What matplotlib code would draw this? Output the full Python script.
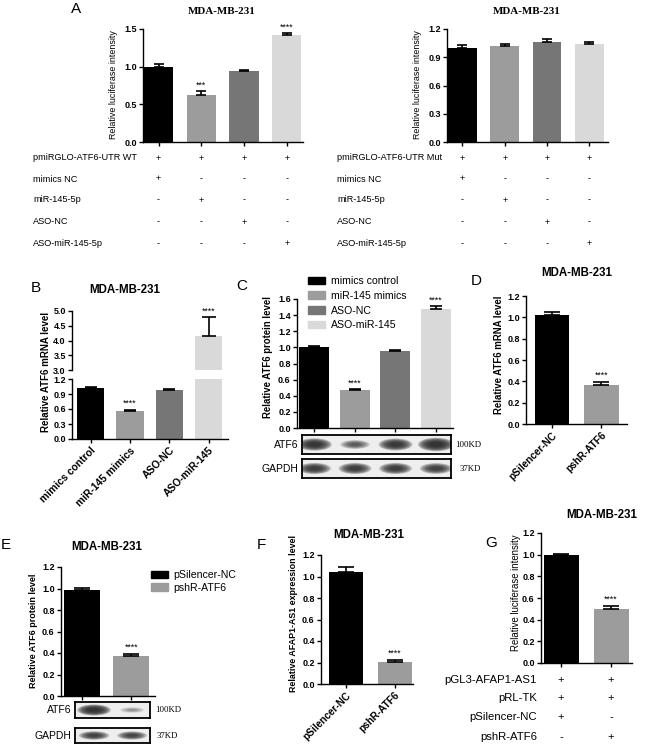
import numpy as np
import matplotlib
matplotlib.use('Agg')
import matplotlib.pyplot as plt
from matplotlib.patches import Ellipse, Patch
from matplotlib import transforms

plt.rcParams['font.family'] = ['Liberation Sans', 'DejaVu Sans']

W, H = 658, 744

# ---------------- data ----------------
bar_colors = ['#000000', '#9c9c9c', '#767676', '#d9d9d9']

a_wt_vals = [1.00, 0.63, 0.94, 1.42]
a_wt_err = [0.03, 0.05, 0.01, 0.03]
a_wt_stars = ['', '***', '', '****']
a_mut_vals = [1.00, 1.02, 1.065, 1.045]
a_mut_err = [0.03, 0.02, 0.03, 0.02]
a_wt_rows = ['pmiRGLO-ATF6-UTR WT', 'mimics NC', 'miR-145-5p', 'ASO-NC', 'ASO-miR-145-5p']
a_mut_rows = ['pmiRGLO-ATF6-UTR Mut', 'mimics NC', 'miR-145-5p', 'ASO-NC', 'ASO-miR-145-5p']
a_signs = [['+', '+', '+', '+'],
           ['+', '-', '-', '-'],
           ['-', '+', '-', '-'],
           ['-', '-', '+', '-'],
           ['-', '-', '-', '+']]

b_labels = ['mimics control', 'miR-145 mimics', 'ASO-NC', 'ASO-miR-145']
b_vals = [1.03, 0.57, 0.98, 4.15]
b_err = [0.02, 0.02, 0.015, 0.65]
b_stars_low = ['', '****', '', '']
b_stars_high = ['', '', '', '****']

c_labels = ['mimics control', 'miR-145 mimics', 'ASO-NC', 'ASO-miR-145']
c_vals = [1.00, 0.47, 0.95, 1.47]
c_err = [0.02, 0.015, 0.015, 0.04]
c_stars = ['', '****', '', '****']
c_atf6_band = [1.0, 0.55, 0.95, 1.15]
c_gapdh_band = [0.85, 0.85, 0.85, 0.8]

kd_labels = ['pSilencer-NC', 'pshR-ATF6']
d_vals = [1.02, 0.365]
d_err = [0.03, 0.03]
e_vals = [0.99, 0.37]
e_err = [0.015, 0.02]
e_atf6_band = [1.1, 0.25]
e_gapdh_band = [0.8, 0.75]
f_vals = [1.04, 0.205]
f_err = [0.05, 0.02]
g_vals = [1.00, 0.495]
g_err = [0.01, 0.03]
g_rows = ['pGL3-AFAP1-AS1', 'pRL-TK', 'pSilencer-NC', 'pshR-ATF6']
g_signs = [['+', '+'], ['+', '+'], ['+', '-'], ['-', '+']]
kd_stars = ['', '****']

fig = plt.figure(figsize=(W / 100, H / 100), dpi=100)


def px_axes(x0, y0, x1, y1):
    return fig.add_axes([x0 / W, 1 - y1 / H, (x1 - x0) / W, (y1 - y0) / H])


def ftext(x, y, s, **kw):
    fig.text(x / W, 1 - y / H, s, **kw)


def prism(ax, yticks, xlim, n, fs=6.5):
    for s in ['top', 'right']:
        ax.spines[s].set_visible(False)
    for s in ['left', 'bottom']:
        ax.spines[s].set_linewidth(1.0)
    ax.set_ylim(yticks[0], yticks[-1])
    ax.set_yticks(yticks)
    ax.set_yticklabels(['%.1f' % t for t in yticks], fontsize=fs, fontweight='bold')
    ax.set_xlim(xlim)
    ax.set_xticks(range(n))
    ax.set_xticklabels([])
    ax.tick_params(direction='out', length=3, width=1, pad=1.5)


def draw_bars(ax, vals, errs, width, cap, stars=None, fs=6.3, pad=0.02):
    x = np.arange(len(vals))
    ax.bar(x, vals, width, color=bar_colors[:len(vals)], zorder=2)
    ax.errorbar(x, vals, yerr=[np.zeros(len(vals)), errs], fmt='none', ecolor='black',
                elinewidth=1.2, capsize=cap, capthick=1.2, zorder=3)
    if stars:
        for xi, v, e, s in zip(x, vals, errs, stars):
            if s:
                ax.text(xi, v + e + pad, s, ha='center', va='bottom', fontsize=fs)


def sign_table(ax, rows, signs, ys, xlab, ha, fs_lab, fs_sign):
    tr = transforms.blended_transform_factory(ax.transData, fig.transFigure)
    for r, (lab, row) in enumerate(zip(rows, signs)):
        ftext(xlab, ys[r], lab, ha=ha, va='center', fontsize=fs_lab)
        for i, s in enumerate(row):
            ax.text(i, 1 - ys[r] / H, s, transform=tr, ha='center', va='center',
                    fontsize=fs_sign, clip_on=False)


def blot(x0, y0, x1, y1, xlim, bands):
    ax = px_axes(x0, y0, x1, y1)
    ax.set_xlim(xlim)
    ax.set_ylim(0, 1)
    ax.set_xticks([])
    ax.set_yticks([])
    ax.set_facecolor('#eeeeee')
    for s in ax.spines.values():
        s.set_linewidth(1.3)
    for i, b in enumerate(bands):
        w = 0.6 + 0.25 * b
        h = 0.25 + 0.4 * b
        for k in range(8):
            f = 1 - k / 10
            ax.add_patch(Ellipse((i, 0.5), w * f, h * f, color='#2a2a2a',
                                 alpha=min(0.3, 0.28 * b), lw=0))
    return ax


# ---------------- panel A ----------------
ax = px_axes(143, 29, 303, 142)
prism(ax, [0.0, 0.5, 1.0, 1.5], (-0.363, 3.38), 4)
draw_bars(ax, a_wt_vals, a_wt_err, 0.68, 3.5, a_wt_stars)
ftext(114, 85, 'Relative luciferase intensity', rotation=90, ha='center', va='center', fontsize=6.4)
ftext(222, 12, 'MDA-MB-231', ha='center', va='center', fontsize=7.9, fontweight='bold',
      family='Liberation Serif')
ftext(76, 9, 'A', ha='center', va='center', fontsize=11)
sign_table(ax, a_wt_rows, a_signs, [158, 179, 200, 222, 244], 33, 'left', 6.6, 6.5)

ax = px_axes(447, 29, 608, 142)
prism(ax, [0.0, 0.3, 0.6, 0.9, 1.2], (-0.366, 3.44), 4)
draw_bars(ax, a_mut_vals, a_mut_err, 0.68, 3.5)
ftext(418, 85, 'Relative luciferase intensity', rotation=90, ha='center', va='center', fontsize=6.4)
ftext(527, 12, 'MDA-MB-231', ha='center', va='center', fontsize=7.9, fontweight='bold',
      family='Liberation Serif')
sign_table(ax, a_mut_rows, a_signs, [158, 179, 200, 222, 244], 337, 'left', 6.6, 6.5)

# ---------------- panel B (broken axis) ----------------
bxl = (-0.47, 3.49)
axt = px_axes(72, 311, 228, 370)
prism(axt, [3.0, 3.5, 4.0, 4.5, 5.0], bxl, 4)
axt.spines['bottom'].set_visible(False)
axt.tick_params(axis='x', length=0)
draw_bars(axt, b_vals, b_err, 0.69, 5, b_stars_high, pad=0.05)
axb = px_axes(72, 379, 228, 439)
prism(axb, [0.0, 0.3, 0.6, 0.9, 1.2], bxl, 4)
draw_bars(axb, b_vals, b_err, 0.69, 4, b_stars_low, pad=0.03)
axb.set_xticklabels(b_labels, rotation=45, ha='right', rotation_mode='anchor',
                    fontsize=7.4, fontweight='bold')
ftext(46, 372, 'Relative ATF6 mRNA level', rotation=90, ha='center', va='center',
      fontsize=7, fontweight='bold')
ftext(125, 290, 'MDA-MB-231', ha='center', va='center', fontsize=8.3, fontweight='bold')
ftext(36, 288, 'B', ha='center', va='center', fontsize=11)

# ---------------- panel C ----------------
ax = px_axes(297, 299, 453, 428)
prism(ax, [0.0, 0.2, 0.4, 0.6, 0.8, 1.0, 1.2, 1.4, 1.6], (-0.43, 3.42), 4)
draw_bars(ax, c_vals, c_err, 0.74, 4.5, c_stars)
ax.legend(handles=[Patch(color=c) for c in bar_colors], labels=c_labels, loc='upper left',
          bbox_to_anchor=(308 / W, 1 - 276 / H), bbox_transform=fig.transFigure,
          frameon=False, fontsize=7.6, handlelength=1.6, handleheight=0.7,
          labelspacing=0.45, handletextpad=0.55, borderpad=0, borderaxespad=0)
ftext(268, 357, 'Relative ATF6 protein level', rotation=90, ha='center', va='center',
      fontsize=6.9, fontweight='bold')
ftext(242, 286, 'C', ha='center', va='center', fontsize=11)
blot(302, 435, 451, 454, (-0.31, 3.37), c_atf6_band)
blot(302, 459, 451, 478, (-0.31, 3.37), c_gapdh_band)
ftext(298, 445, 'ATF6', ha='right', va='center', fontsize=7.5)
ftext(298, 469, 'GAPDH', ha='right', va='center', fontsize=7.5)
ftext(455, 445, '100KD', ha='left', va='center', fontsize=6.3, family='Liberation Serif')
ftext(460, 469, '37KD', ha='left', va='center', fontsize=6.3, family='Liberation Serif')

# ---------------- panel D ----------------
kd_ticks = [0.0, 0.2, 0.4, 0.6, 0.8, 1.0, 1.2]
ax = px_axes(526, 296, 627, 424)
prism(ax, kd_ticks, (-0.525, 1.52), 2)
draw_bars(ax, d_vals, d_err, 0.70, 5.5, kd_stars)
ax.set_xticklabels(kd_labels, rotation=45, ha='right', rotation_mode='anchor',
                   fontsize=7.2, fontweight='bold')
ftext(499, 355, 'Relative ATF6 mRNA level', rotation=90, ha='center', va='center',
      fontsize=6.9, fontweight='bold')
ftext(577, 273, 'MDA-MB-231', ha='center', va='center', fontsize=8.3, fontweight='bold')
ftext(476, 281, 'D', ha='center', va='center', fontsize=11)

# ---------------- panel E ----------------
ax = px_axes(61, 567, 155, 696)
prism(ax, kd_ticks, (-0.43, 1.48), 2)
draw_bars(ax, e_vals, e_err, 0.73, 5.5, kd_stars)
ax.legend(handles=[Patch(color=c) for c in bar_colors[:2]], labels=kd_labels, loc='upper left',
          bbox_to_anchor=(151 / W, 1 - 570 / H), bbox_transform=fig.transFigure,
          frameon=False, fontsize=7.6, handlelength=1.6, handleheight=0.7,
          labelspacing=0.25, handletextpad=0.55, borderpad=0, borderaxespad=0)
ftext(33, 631, 'Relative ATF6 protein level', rotation=90, ha='center', va='center',
      fontsize=6.5, fontweight='bold')
ftext(107, 547, 'MDA-MB-231', ha='center', va='center', fontsize=8.3, fontweight='bold')
ftext(6, 545, 'E', ha='center', va='center', fontsize=11)
blot(75, 702, 150, 718, (-0.5, 1.47), e_atf6_band)
blot(75, 728, 150, 743, (-0.5, 1.47), e_gapdh_band)
ftext(71, 710, 'ATF6', ha='right', va='center', fontsize=7.5)
ftext(71, 736, 'GAPDH', ha='right', va='center', fontsize=7.5)
ftext(155, 710, '100KD', ha='left', va='center', fontsize=6.3, family='Liberation Serif')
ftext(157, 736, '37KD', ha='left', va='center', fontsize=6.3, family='Liberation Serif')

# ---------------- panel F ----------------
ax = px_axes(321, 555, 413, 684)
prism(ax, kd_ticks, (-0.515, 1.38), 2)
draw_bars(ax, f_vals, f_err, 0.70, 5.5, kd_stars)
ax.set_xticklabels(kd_labels, rotation=45, ha='right', rotation_mode='anchor',
                   fontsize=7.2, fontweight='bold')
ftext(294, 614, 'Relative AFAP1-AS1 expression level', rotation=90, ha='center', va='center',
      fontsize=6.4, fontweight='bold')
ftext(369, 535, 'MDA-MB-231', ha='center', va='center', fontsize=8.3, fontweight='bold')
ftext(261, 545, 'F', ha='center', va='center', fontsize=11)

# ---------------- panel G ----------------
ax = px_axes(541, 533, 632, 663)
prism(ax, kd_ticks, (-0.4, 1.42), 2)
draw_bars(ax, g_vals, g_err, 0.70, 5.5, kd_stars)
ftext(516, 593, 'Relative luciferase intensity', rotation=90, ha='center', va='center', fontsize=6.9)
ftext(602, 515, 'MDA-MB-231', ha='center', va='center', fontsize=8.3, fontweight='bold')
ftext(491, 543, 'G', ha='center', va='center', fontsize=11)
sign_table(ax, g_rows, g_signs, [680, 698, 717, 737], 537, 'right', 8.2, 8)

fig.savefig('out.png', dpi=100)
